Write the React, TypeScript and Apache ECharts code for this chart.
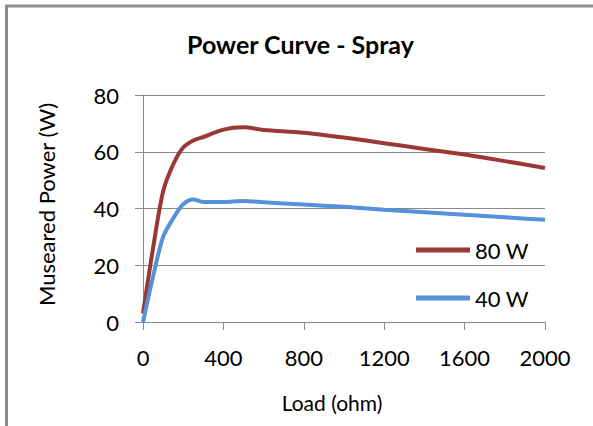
import React, { useEffect, useRef } from "react";
import * as echarts from "echarts";

const loads = [0, 50, 100, 150, 200, 250, 300, 400, 500, 600, 800, 1000, 1200, 1400, 1600, 1800, 2000];
const power80 = [3, 26, 46, 55.5, 61.5, 64, 65.2, 67.8, 68.6, 67.7, 66.7, 65, 63, 61, 59, 56.7, 54.3];
const power40 = [0, 16, 30, 36.5, 41.5, 43.2, 42.3, 42.3, 42.6, 42.2, 41.4, 40.6, 39.6, 38.7, 37.8, 36.9, 36.0];
const seriesNames = ["80 W", "40 W"];
const titleText = "Power Curve - Spray";
const xName = "Load (ohm)";
const yName = "Museared Power (W)";

const FONT = "Lato";
const GRID = "#8a8a8a";

export default function App() {
  const ref = useRef<HTMLDivElement>(null);
  useEffect(() => {
    if (!ref.current) return;
    const chart = echarts.init(ref.current, undefined, { renderer: "svg" });
    const pairs = (ys: number[]) => loads.map((x, i) => [x, ys[i]]);
    chart.setOption({
      animation: false,
      backgroundColor: "#ffffff",
      textStyle: { fontFamily: FONT },
      title: {
        text: titleText,
        left: 187,
        top: 31,
        padding: 0,
        textStyle: { fontFamily: FONT, fontWeight: "bold", fontSize: 25, color: "#000" },
      },
      grid: { left: 143, right: 48, top: 95, bottom: 104, containLabel: false },
      legend: {
        orient: "vertical",
        left: 416,
        top: 239,
        itemWidth: 54,
        itemHeight: 5,
        itemGap: 26,
        padding: 0,
        icon: "rect",
        textStyle: { fontFamily: FONT, fontSize: 22, color: "#000" },
        data: seriesNames,
      },
      xAxis: {
        type: "value",
        min: 0,
        max: 2000,
        interval: 400,
        name: xName,
        nameLocation: "middle",
        nameGap: 70,
        nameTextStyle: { fontFamily: FONT, fontSize: 21, color: "#000", padding: [0, 24, 0, 0] },
        axisLine: { show: true, lineStyle: { color: GRID, width: 1 } },
        axisTick: { show: true, inside: false, length: 8, lineStyle: { color: GRID } },
        axisLabel: {
          margin: 24,
          fontFamily: FONT,
          fontSize: 22,
          color: "#000",
          formatter: (v: number) => String(v),
        },
        splitLine: { show: false },
      },
      yAxis: {
        type: "value",
        min: 0,
        max: 80,
        interval: 20,
        name: yName,
        nameLocation: "middle",
        nameGap: 86,
        nameTextStyle: { fontFamily: FONT, fontSize: 22, color: "#000", padding: [0, 0, 0, 8] },
        axisLine: { show: true, lineStyle: { color: GRID, width: 1 } },
        axisTick: { show: true, inside: false, length: 8, lineStyle: { color: GRID } },
        axisLabel: { margin: 24, fontFamily: FONT, fontSize: 22, color: "#000" },
        splitLine: { show: true, lineStyle: { color: GRID, width: 1 } },
      },
      series: [
        {
          name: seriesNames[0],
          type: "line",
          data: pairs(power80),
          symbol: "none",
          smooth: 0.3,
          lineStyle: { color: "#9a3835", width: 4 },
          itemStyle: { color: "#9a3835" },
        },
        {
          name: seriesNames[1],
          type: "line",
          data: pairs(power40),
          symbol: "none",
          smooth: 0.3,
          lineStyle: { color: "#5690d8", width: 4 },
          itemStyle: { color: "#5690d8" },
        },
      ],
      graphic: [
        {
          type: "rect",
          shape: { x: 6.5, y: 6, width: 700, height: 600 },
          style: { fill: "none", stroke: "#8c8c8c", lineWidth: 3 },
          silent: true,
        },
      ],
    });
    return () => chart.dispose();
  }, []);
  return (
    <div
      ref={ref}
      style={{ position: "absolute", left: 0, top: 0, width: 593, height: 426 }}
    />
  );
}
